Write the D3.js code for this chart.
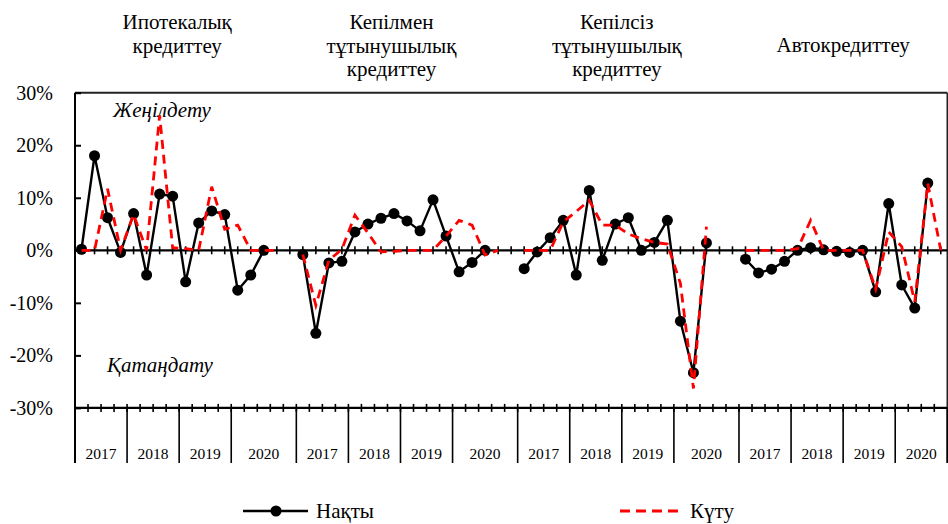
<!DOCTYPE html>
<html><head><meta charset="utf-8">
<script src="https://cdnjs.cloudflare.com/ajax/libs/d3/7.8.5/d3.min.js"></script>
<style>
html,body{margin:0;padding:0;background:#fff;}
svg{display:block;font-family:"Liberation Serif","Times New Roman",serif;}
</style></head>
<body><svg id="chart" width="948" height="524"></svg>
<script>
// ---- data ----
const groups = [
  ["Ипотекалық", "кредиттеу"],
  ["Кепілмен", "тұтынушылық", "кредиттеу"],
  ["Кепілсіз", "тұтынушылық", "кредиттеу"],
  ["Автокредиттеу"]
];
const years = ["2017", "2018", "2019", "2020"];
const slotsPerGroup = [17, 17, 17, 16];
const yTicks = [-30, -20, -10, 0, 10, 20, 30];
const seriesNames = ["Нақты", "Күту"];

const actualMortgage = [0.2, 18.0, 6.2, -0.4, 7.0, -4.7, 10.7, 10.3, -6.0, 5.2, 7.5, 6.8, -7.6, -4.7, 0.0, null];
const expectMortgage = [0, 0, 11.7, 0, 6.8, 0, 25.7, 0.5, 0.3, 0, 12.1, 4.0, 4.8, 0, 0, 0];
const actualSecured  = [-0.8, -15.8, -2.4, -2.1, 3.5, 5.0, 6.1, 7.0, 5.6, 3.7, 9.6, 2.7, -4.1, -2.3, 0.0, null];
const expectSecured  = [-0.8, -10.5, -1.9, 0.2, 6.7, 3.3, -0.3, -0.2, 0, 0, 0, 2.7, 5.7, 4.8, -0.9, 0];
const actualUnsecured = [-3.5, -0.3, 2.4, 5.7, -4.7, 11.4, -1.9, 5.0, 6.2, 0.0, 1.5, 5.7, -13.5, -23.3, 1.4, null];
const expectUnsecured = [0, 0, 0, 5.4, 7.4, 9.5, 4.8, 4.8, 3.1, 2.2, 1.5, 1.2, -6.3, -26.3, 4.5, null];
const actualAuto = [-1.7, -4.3, -3.6, -2.1, 0.0, 0.5, 0.1, -0.2, -0.4, 0.0, -7.9, 8.9, -6.6, -11.0, 12.8, null];
const expectAuto = [0, 0, 0, 0, 0.3, 5.7, 0, 0, 0, 0, -7.4, 3.5, 0.7, -9.8, 12.7, 0];

const actualSeries = [actualMortgage, actualSecured, actualUnsecured, actualAuto];
const expectSeries = [expectMortgage, expectSecured, expectUnsecured, expectAuto];

// ---- layout ----
const plotL = 75, plotR = 947.3, plotT = 92.7, plotB = 407.9;
const titleDx = [-2, -9, -5, 0];

const svg = d3.select("#chart");

const slots = [];
groups.forEach((g, gi) => {
  for (let i = 0; i < slotsPerGroup[gi]; i++) {
    const a = actualSeries[gi][i], e = expectSeries[gi][i];
    slots.push({key: gi + "-" + i, g: gi, i: i,
      actual: (a === undefined ? null : a), expect: (e === undefined ? null : e)});
  }
});

const x = d3.scaleBand().domain(slots.map(d => d.key)).range([plotL, plotR]).paddingInner(0).paddingOuter(0);
const bw = x.bandwidth();
const cx = k => x(k) + bw / 2;
const y = d3.scaleLinear().domain([-30, 30]).range([plotB, plotT]);

// frame: top and right
svg.append("line").attr("x1", plotL).attr("x2", plotR).attr("y1", plotT).attr("y2", plotT)
  .attr("stroke", "#222").attr("stroke-width", 2);
svg.append("line").attr("x1", plotR).attr("x2", plotR).attr("y1", plotT).attr("y2", 463)
  .attr("stroke", "#222").attr("stroke-width", 1.6);

// y axis
const yAxis = d3.axisLeft(y).tickValues(yTicks).tickSizeInner(-6).tickSizeOuter(0)
  .tickPadding(22).tickFormat(d => d + "%");
const ya = svg.append("g").attr("transform", `translate(${plotL},0)`).call(yAxis);
ya.select(".domain").remove();
ya.selectAll(".tick line").attr("stroke", "#000").attr("stroke-width", 2);
ya.selectAll(".tick text").attr("font-family", "Liberation Serif").attr("font-size", 20).attr("fill", "#000");
svg.append("line").attr("x1", plotL).attr("x2", plotL).attr("y1", plotT).attr("y2", 463)
  .attr("stroke", "#000").attr("stroke-width", 2);

// bottom axis line with ticks at slot boundaries
svg.append("line").attr("x1", plotL).attr("x2", plotR).attr("y1", y(-30)).attr("y2", y(-30))
  .attr("stroke", "#000").attr("stroke-width", 2.2);
svg.append("g").selectAll("line").data(slots.slice(1)).join("line")
  .attr("x1", d => x(d.key)).attr("x2", d => x(d.key))
  .attr("y1", y(-30) - 4).attr("y2", y(-30) + 4)
  .attr("stroke", "#000").attr("stroke-width", 1.6);

// zero line with ticks at slot centres
svg.append("line").attr("x1", plotL).attr("x2", plotR).attr("y1", y(0)).attr("y2", y(0))
  .attr("stroke", "#000").attr("stroke-width", 2.2);
svg.append("g").selectAll("line").data(slots).join("line")
  .attr("x1", d => cx(d.key)).attr("x2", d => cx(d.key))
  .attr("y1", y(0) - 4).attr("y2", y(0) + 4)
  .attr("stroke", "#000").attr("stroke-width", 1.6);

// year spans, separators and labels
const spans = [];
groups.forEach((g, gi) => {
  years.forEach((yr, k) => {
    const s = 4 * k, e = (k < years.length - 1) ? 4 * k + 3 : slotsPerGroup[gi] - 1;
    spans.push({yr, x0: x(gi + "-" + s), x1: x(gi + "-" + e) + bw});
  });
});
svg.append("g").selectAll("line").data(spans).join("line")
  .attr("x1", d => d.x1).attr("x2", d => d.x1).attr("y1", y(-30)).attr("y2", 463)
  .attr("stroke", "#000").attr("stroke-width", 1.6);
svg.append("g").selectAll("text").data(spans).join("text")
  .attr("x", d => (d.x0 + d.x1) / 2).attr("y", 459)
  .attr("text-anchor", "middle").attr("font-size", 15.5).attr("fill", "#000")
  .text(d => d.yr);

// group titles
groups.forEach((lines, gi) => {
  const xc = (x(gi + "-0") + x(gi + "-15") + bw) / 2 + titleDx[gi];
  const t = svg.append("text").attr("text-anchor", "middle").attr("font-size", 21).attr("fill", "#000");
  const startY = lines.length === 1 ? 52 : 29;
  lines.forEach((ln, li) => {
    t.append("tspan").attr("x", xc).attr("y", startY + li * 23.5).text(ln);
  });
});

// annotations
svg.append("text").attr("x", 113).attr("y", 117).attr("font-size", 21).attr("font-style", "italic")
  .attr("fill", "#000").text("Жеңілдету");
svg.append("text").attr("x", 107).attr("y", 372).attr("font-size", 21).attr("font-style", "italic")
  .attr("fill", "#000").text("Қатаңдату");

// lines
const lineA = d3.line().defined(d => d.actual !== null).x(d => cx(d.key)).y(d => y(d.actual));
const lineE = d3.line().defined(d => d.expect !== null).x(d => cx(d.key)).y(d => y(d.expect));

svg.append("path").datum(slots).attr("d", lineA).attr("fill", "none")
  .attr("stroke", "#000").attr("stroke-width", 2.4).attr("stroke-linejoin", "round");
svg.append("g").selectAll("circle").data(slots.filter(d => d.actual !== null)).join("circle")
  .attr("cx", d => cx(d.key)).attr("cy", d => y(d.actual)).attr("r", 5.5).attr("fill", "#000");
svg.append("path").datum(slots).attr("d", lineE).attr("fill", "none")
  .attr("stroke", "#ff0000").attr("stroke-width", 2.8).attr("stroke-dasharray", "9,6");

// legend
const lg = svg.append("g");
lg.append("line").attr("x1", 243).attr("x2", 308).attr("y1", 511).attr("y2", 511)
  .attr("stroke", "#000").attr("stroke-width", 2.6);
lg.append("circle").attr("cx", 276).attr("cy", 511).attr("r", 5.5).attr("fill", "#000");
lg.append("text").attr("x", 316).attr("y", 518).attr("font-size", 21).attr("fill", "#000").text(seriesNames[0]);
lg.append("line").attr("x1", 620).attr("x2", 684).attr("y1", 511).attr("y2", 511)
  .attr("stroke", "#ff0000").attr("stroke-width", 2.8).attr("stroke-dasharray", "10,6");
lg.append("text").attr("x", 690).attr("y", 518).attr("font-size", 21).attr("fill", "#000").text(seriesNames[1]);
</script>
</body></html>
